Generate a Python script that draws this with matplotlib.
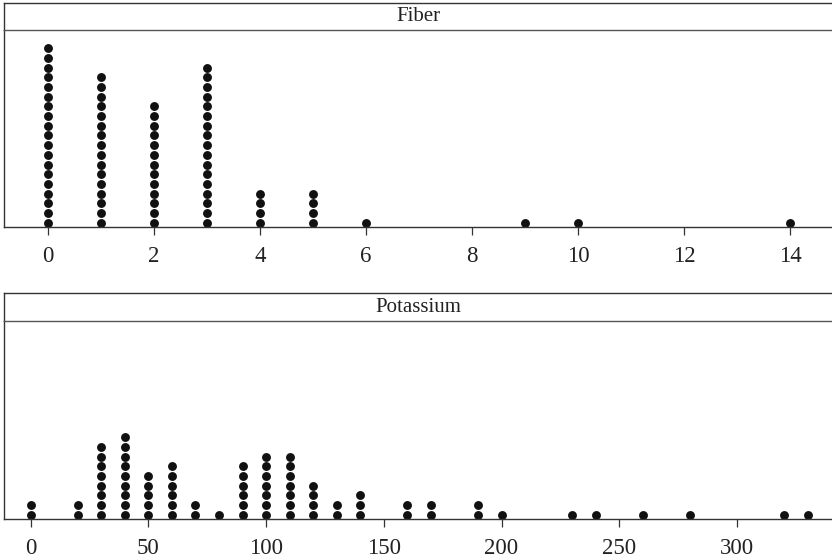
import matplotlib
matplotlib.use("Agg")
import matplotlib.pyplot as plt

plt.rcParams['font.family'] = ['Liberation Serif', 'DejaVu Serif']

# dot plot counts
fiber_vals = [0, 1, 2, 3, 4, 5, 6, 9, 10, 14]
fiber_counts = [19, 16, 13, 17, 4, 4, 1, 1, 1, 1]
fiber_ticks = [0, 2, 4, 6, 8, 10, 12, 14]

potass_vals = [0, 20, 30, 40, 50, 60, 70, 80, 90, 100, 110, 120, 130, 140,
               160, 170, 190, 200, 230, 240, 260, 280, 320, 330]
potass_counts = [2, 2, 8, 9, 5, 6, 2, 1, 6, 7, 7, 4, 2, 3,
                 2, 2, 2, 1, 1, 1, 1, 1, 1, 1]
potass_ticks = [0, 50, 100, 150, 200, 250, 300]

W, H = 832, 560
fig = plt.figure(figsize=(W / 100, H / 100), dpi=100)
edge = '#333333'


def panel(top_px, bot_px, strip_px, vals, counts, ticks, xlim, title):
    left = 4 / W
    ax = fig.add_axes([left, 1 - bot_px / H, 1 - left, (bot_px - top_px) / H])
    xs, ys = [], []
    for v, c in zip(vals, counts):
        for k in range(c):
            xs.append(v)
            ys.append(k)
    ax.plot(xs, ys, 'o', color='#111111', markersize=6.4, markeredgewidth=0,
            clip_on=False)
    ax.set_xlim(*xlim)
    ax.set_ylim(-0.44, -0.44 + (bot_px - top_px) / 9.7)
    ax.set_yticks([])
    ax.set_xticks(ticks)
    ax.set_xticklabels([str(t) for t in ticks])
    ax.tick_params(axis='x', direction='out', length=6, width=0.9, color=edge,
                   labelsize=16.5, pad=8, labelcolor='#222222')
    ax.spines['right'].set_visible(False)
    ax.spines['top'].set_visible(False)
    for s in ('left', 'bottom'):
        ax.spines[s].set_color(edge)
        ax.spines[s].set_linewidth(1.0)

    sax = fig.add_axes([left, 1 - top_px / H, 1 - left, (top_px - strip_px) / H])
    sax.set_xticks([])
    sax.set_yticks([])
    sax.spines['right'].set_visible(False)
    for s in ('left', 'top', 'bottom'):
        sax.spines[s].set_color(edge)
        sax.spines[s].set_linewidth(1.0)
    sax.spines['bottom'].set_color('#555555')
    sax.text(0.5, 0.5, title, transform=sax.transAxes,
             ha='center', va='center', fontsize=15, color='#222222')


panel(30, 227, 3, fiber_vals, fiber_counts, fiber_ticks,
      ((4 - 48) / 53.0, (832 - 48) / 53.0), 'Fiber')
panel(321, 519, 293, potass_vals, potass_counts, potass_ticks,
      ((4 - 30.7) / 2.354, (832 - 30.7) / 2.354), 'Potassium')

fig.savefig('out.png', dpi=100)
